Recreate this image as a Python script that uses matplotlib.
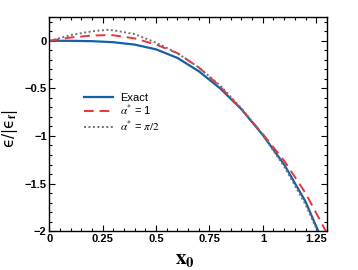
import numpy as np
import matplotlib
matplotlib.use("Agg")
import matplotlib.pyplot as plt
from matplotlib.ticker import MultipleLocator

plt.rcParams['mathtext.fontset'] = 'stix'
plt.rcParams['font.family'] = ['Liberation Sans', 'DejaVu Sans']

# values
x_exact = [0, 0.1, 0.2, 0.3, 0.4, 0.5, 0.6, 0.7, 0.8, 0.9, 1.0, 1.1, 1.2, 1.25, 1.26]
y_exact = [0, 0, -0.004, -0.015, -0.04, -0.09, -0.18, -0.32, -0.50, -0.72, -0.99, -1.30, -1.69, -1.95, -2.0]

x_a1 = [0, 0.1, 0.2, 0.27, 0.3, 0.4, 0.5, 0.6, 0.7, 0.8, 0.9, 1.0, 1.1, 1.2, 1.3]
y_a1 = [0, 0.035, 0.055, 0.06, 0.058, 0.025, -0.04, -0.13, -0.28, -0.48, -0.72, -0.98, -1.26, -1.60, -2.02]

x_api = [0, 0.1, 0.2, 0.27, 0.3, 0.4, 0.5, 0.6, 0.7, 0.8, 0.9, 1.0, 1.1, 1.2, 1.25, 1.26]
y_api = [0, 0.06, 0.1, 0.115, 0.11, 0.07, -0.02, -0.13, -0.28, -0.47, -0.71, -0.99, -1.32, -1.72, -1.97, -2.03]

labels = ['Exact', r'$\alpha^{*}$ = 1', r'$\alpha^{*}$ = $\pi/2$']
xticks = [0, 0.25, 0.5, 0.75, 1, 1.25]
xticklabels = ['0', '0.25', '0.5', '0.75', '1', '1.25']
yticks = [0, -0.5, -1, -1.5, -2]
yticklabels = ['0', '\u22120.5', '\u22121', '\u22121.5', '\u22122']

fig = plt.figure(figsize=(3.58, 2.70), dpi=100)
ax = fig.add_axes([0.138, 0.144, 0.775, 0.793])

ax.plot(x_exact, y_exact, color='#1460a8', lw=1.6, label=labels[0])
ax.plot(x_a1, y_a1, color='#f0323c', lw=1.4, ls=(0, (5, 3)), label=labels[1])
ax.plot(x_api, y_api, color='#707070', lw=1.4, ls=(0, (1, 1.3)), label=labels[2])

ax.set_xlim(0, 1.3)
ax.set_ylim(-2, 0.25)
ax.set_xticks(xticks)
ax.set_xticklabels(xticklabels)
ax.set_yticks(yticks)
ax.set_yticklabels(yticklabels)
ax.xaxis.set_minor_locator(MultipleLocator(0.05))
ax.yaxis.set_minor_locator(MultipleLocator(0.1))
ax.tick_params(which='both', direction='in', top=True, right=True, width=0.8)
ax.tick_params(which='major', length=4, labelsize=8, pad=2)
ax.tick_params(which='minor', length=2)
for lab in ax.get_xticklabels() + ax.get_yticklabels():
    lab.set_fontweight('bold')
for s in ax.spines.values():
    s.set_linewidth(1.0)

ax.set_xlabel(r'$\mathbf{x_0}$', fontsize=15)
ax.xaxis.set_label_coords(0.49, -0.09)
ax.set_ylabel('\u03f5/|\u03f5$_{\\mathbf{f}}$|', fontsize=11, family=['DejaVu Sans'])
ax.yaxis.set_label_coords(-0.105, 0.48)

ax.legend(loc='upper left', bbox_to_anchor=(0.09, 0.69), frameon=False,
          fontsize=8, handlelength=2.6, handletextpad=0.6, labelspacing=0.0)

fig.savefig('out.png', dpi=100)
